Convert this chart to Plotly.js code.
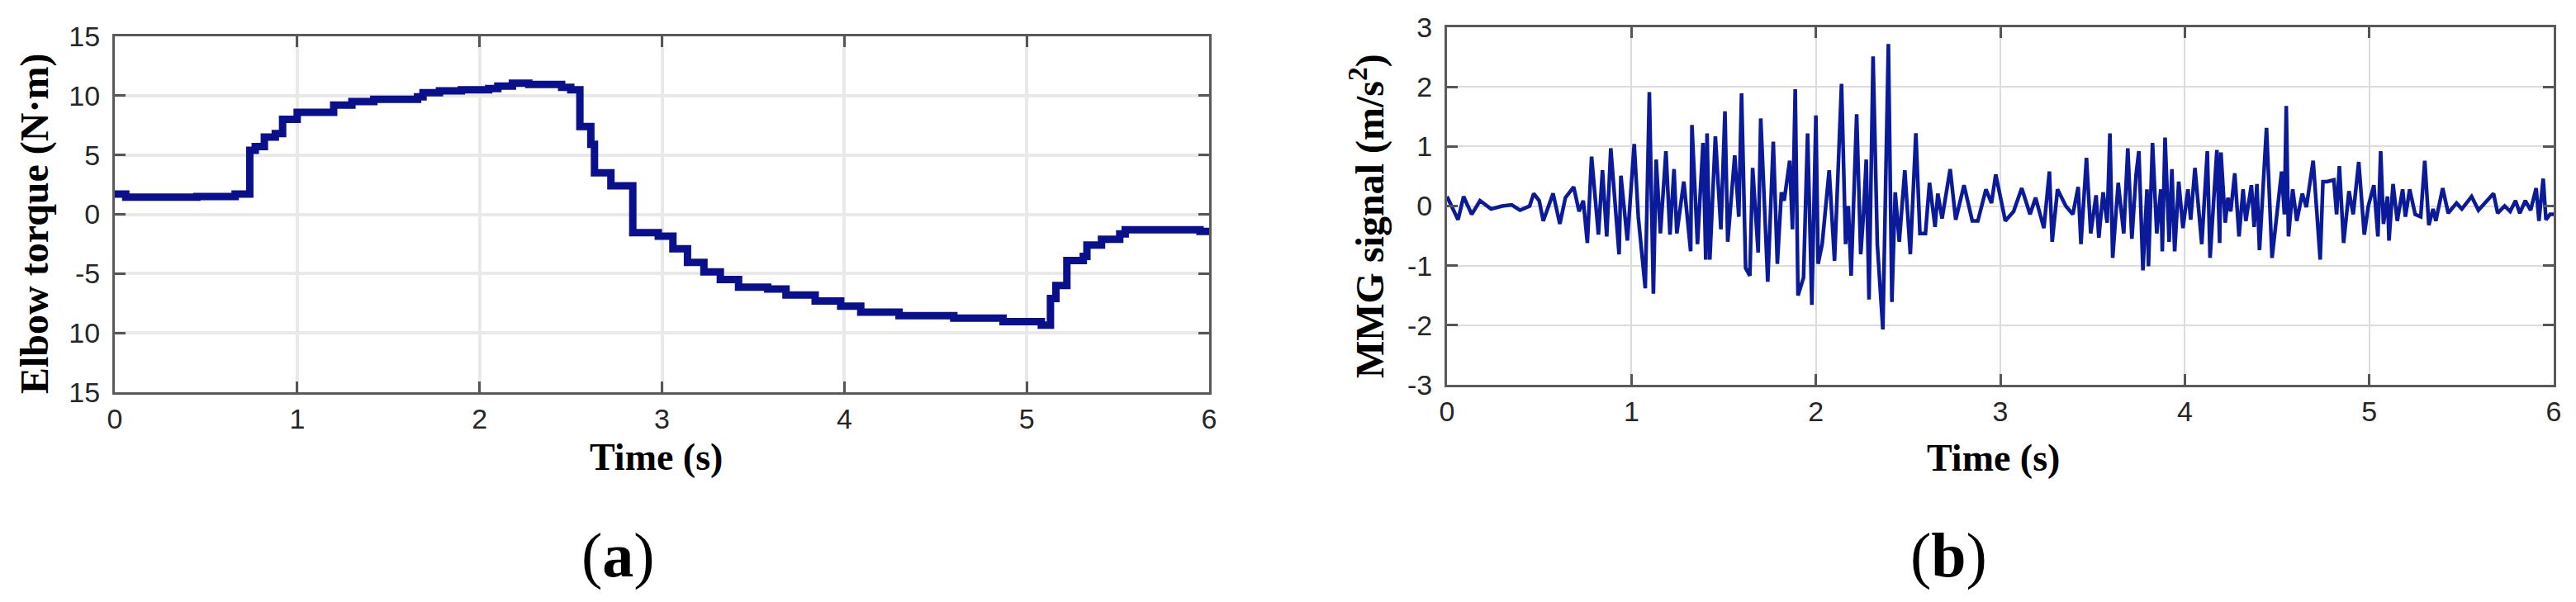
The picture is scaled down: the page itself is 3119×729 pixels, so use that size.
<!DOCTYPE html>
<html>
<head>
<meta charset="utf-8">
<script src="https://cdn.plot.ly/plotly-3.0.1.min.js"></script>
<style>
  body { margin: 0; background: #fff; }
  #div-chart { width: 3119px; height: 729px; }
</style>
</head>
<body>
<div id="div-chart"></div>
<script>
var torque_t = [0, 0.06, 0.45, 0.66, 0.74, 0.77, 0.82, 0.88, 0.92, 1.00, 1.20, 1.30, 1.42, 1.66,
    1.69, 1.78, 1.90, 2.05, 2.10, 2.18, 2.27, 2.45, 2.50, 2.55, 2.61, 2.63, 2.72, 2.84, 2.98,
    3.06, 3.14, 3.23, 3.32, 3.42, 3.58, 3.68, 3.84, 3.98, 4.09, 4.30, 4.60, 4.87, 5.08, 5.13,
    5.16, 5.22, 5.31, 5.33, 5.41, 5.51, 5.54, 5.95, 6.0];
var torque_val = [1.7, 1.45, 1.5, 1.7, 5.4, 5.7, 6.5, 6.8, 8.0, 8.6, 9.2, 9.5, 9.7, 9.9,
    10.25, 10.4, 10.5, 10.6, 10.8, 11.05, 10.95, 10.7, 10.5, 7.4, 5.9, 3.5, 2.4, -1.55, -1.85,
    -2.9, -4.05, -4.85, -5.5, -6.15, -6.3, -6.8, -7.3, -7.75, -8.25, -8.55, -8.75, -9.05, -9.35, -7.1,
    -6.0, -3.9, -3.55, -2.6, -2.1, -1.65, -1.3, -1.45, -1.5];

// (b) MMG signal, peaks and troughs
var mmg_t = [
    0.000, 0.060, 0.090, 0.134, 0.179, 0.239, 0.299, 0.351, 0.396, 0.448, 0.470, 0.500, 0.522,
    0.575, 0.612, 0.642, 0.687, 0.716, 0.739, 0.761, 0.784, 0.821, 0.843, 0.866, 0.888, 0.933,
    0.943, 0.978, 1.015, 1.037, 1.075, 1.097, 1.119, 1.134, 1.157, 1.187, 1.209, 1.231, 1.246,
    1.284, 1.321, 1.328, 1.358, 1.388, 1.403, 1.410, 1.425, 1.455, 1.485, 1.507, 1.522, 1.560,
    1.582, 1.597, 1.619, 1.642, 1.657, 1.687, 1.701, 1.739, 1.769, 1.791, 1.813, 1.828, 1.858,
    1.873, 1.888, 1.903, 1.933, 1.955, 1.978, 2.000,
    2.012, 2.034, 2.072, 2.101, 2.139, 2.161, 2.176, 2.191, 2.221, 2.243, 2.258, 2.273, 2.288,
    2.310, 2.333, 2.363, 2.393, 2.412, 2.430, 2.452, 2.482, 2.512, 2.542, 2.564, 2.594, 2.616,
    2.646, 2.661, 2.684, 2.728, 2.758, 2.803, 2.848, 2.878, 2.922, 2.952, 2.975, 3.027, 3.072,
    3.116, 3.161, 3.191, 3.236, 3.266, 3.281, 3.310, 3.355, 3.393, 3.422, 3.437, 3.467, 3.490,
    3.519, 3.534, 3.557, 3.579, 3.594, 3.609, 3.639, 3.669, 3.691, 3.713, 3.736, 3.751, 3.773,
    3.795, 3.803, 3.825, 3.848, 3.870, 3.878, 3.893, 3.915, 3.930, 3.945, 3.967, 3.990,
    4.017, 4.032, 4.055, 4.092, 4.122, 4.137, 4.174, 4.189, 4.196, 4.219, 4.234, 4.249, 4.271,
    4.294, 4.316, 4.331, 4.361, 4.376, 4.391, 4.405, 4.443, 4.473, 4.525, 4.540, 4.550, 4.562,
    4.585, 4.607, 4.637, 4.659, 4.696, 4.734, 4.749, 4.771, 4.808, 4.823, 4.838, 4.861, 4.890,
    4.913, 4.943, 4.973, 4.995, 5.025, 5.047, 5.062, 5.077, 5.099, 5.107, 5.129, 5.152, 5.181,
    5.196, 5.219, 5.249, 5.279, 5.301, 5.323, 5.346, 5.361, 5.398, 5.428, 5.473, 5.502, 5.555,
    5.592, 5.614, 5.674, 5.696, 5.734, 5.764, 5.793, 5.816, 5.846, 5.875, 5.905, 5.920, 5.943,
    5.958, 5.980, 6.000];
var mmg_val = [
    0.16, -0.23, 0.16, -0.14, 0.09, -0.05, 0.00, 0.02, -0.07, 0.00, 0.21, 0.09, -0.25,
    0.21, -0.30, 0.14, 0.32, -0.09, 0.09, -0.62, 0.83, -0.48, 0.60, -0.51, 0.97, -0.81,
    0.51, -0.58, 1.04, -0.18, -1.38, 1.91, -1.47, 0.78, -0.46, 0.92, -0.48, 0.62, -0.46,
    0.41, -0.76, 1.36, -0.64, 1.06, -0.90, 1.22, -0.90, 1.17, -0.39, 1.59, -0.60, 0.85,
    -0.18, 1.89, -1.04, -1.17, 0.64, -0.78, 1.47, -1.27, 1.08, -0.97, 0.23, 0.09, 0.76,
    -0.39, 1.96, -1.50, -1.20, 1.22, -1.66, 1.52,
    -0.97, -0.64, 0.60, -0.92, 2.05, -0.64, 0.00, -1.17, 1.54, -0.81, -0.14, 0.78, -1.57,
    2.51, -0.64, -2.07, 2.72, -1.61, 0.23, -0.60, 0.60, -0.81, 1.22, -0.46, -0.46, 0.39,
    -0.35, 0.21, -0.21, 0.62, -0.23, 0.35, -0.25, -0.25, 0.28, 0.05, 0.53, -0.25, -0.09,
    0.30, -0.14, 0.14, -0.37, 0.58, -0.60, 0.28, 0.00, -0.14, 0.32, -0.64, 0.81, -0.46,
    0.18, -0.53, 0.23, -0.28, 1.22, -0.87, 0.39, -0.46, 0.97, -0.55, 0.53, 0.92, -1.08,
    0.28, -1.01, 1.06, -0.46, 0.28, -0.76, 1.15, -0.60, 0.62, -0.76, 0.41, -0.37,
    0.28, -0.23, 0.64, -0.64, 0.92, -0.87, 0.94, -0.62, 0.90, -0.28, 0.14, -0.09, 0.55,
    -0.51, 0.28, -0.25, 0.35, -0.35, 0.37, -0.74, 1.31, -0.87, 0.58, -0.14, 1.68, -0.51,
    0.28, -0.25, 0.21, -0.02, 0.76, -0.90, 0.41, 0.41, 0.44, -0.14, 0.67, -0.62, 0.25,
    -0.14, 0.74, -0.48, 0.00, 0.35, -0.51, 0.92, -0.30, 0.16, -0.58, 0.37, -0.25, 0.28,
    -0.18, 0.28, -0.14, -0.18, 0.76, -0.32, -0.05, -0.25, 0.30, -0.12, 0.05, -0.05, 0.16,
    -0.07, 0.00, 0.21, -0.12, 0.00, -0.09, 0.09, -0.12, 0.09, -0.07, 0.30, -0.25, 0.46,
    -0.23, -0.14, -0.14];

var time_ticks = [0, 1, 2, 3, 4, 5, 6];
var torque_ticks = [-15, -10, -5, 0, 5, 10, 15];
var torque_tick_text = ['15', '10', '-5', '0', '5', '10', '15'];
var mmg_ticks = [-3, -2, -1, 0, 1, 2, 3];

var W = 3119, H = 729;
function px(x) { return x / W; }
function py(y) { return 1 - y / H; }

var tick_font = {family: 'Liberation Sans, Arial, sans-serif', size: 34, color: '#262626'};
var serif = 'Liberation Serif, Times New Roman, serif';

function make_xaxis(domain, anchor, gridwidth, gridcolor) {
    return {
        domain: domain, anchor: anchor, range: [0, 6],
        tickvals: time_ticks, ticktext: time_ticks.map(String),
        ticks: 'inside', ticklen: 13, tickwidth: 3, tickcolor: '#555',
        showline: true, linecolor: '#5a5a5a', linewidth: 3, mirror: 'ticks',
        showgrid: true, gridcolor: gridcolor, gridwidth: gridwidth,
        zeroline: false, tickfont: tick_font, ticklabelstandoff: 0
    };
}

function make_yaxis(domain, anchor, range, vals, text, gridwidth, gridcolor) {
    return {
        domain: domain, anchor: anchor, range: range,
        tickvals: vals, ticktext: text,
        ticks: 'inside', ticklen: 13, tickwidth: 3, tickcolor: '#555',
        showline: true, linecolor: '#5a5a5a', linewidth: 3, mirror: 'ticks',
        showgrid: true, gridcolor: gridcolor, gridwidth: gridwidth,
        zeroline: false, tickfont: tick_font, ticklabelstandoff: 8
    };
}

function label(text, x, y, size, angle) {
    return {
        text: text, xref: 'paper', yref: 'paper', x: px(x), y: py(y),
        xanchor: 'center', yanchor: 'middle', showarrow: false,
        textangle: angle || 0,
        font: {family: serif, size: size, color: '#000'}
    };
}

var data_torque = {
    x: torque_t, y: torque_val, xaxis: 'x', yaxis: 'y',
    mode: 'lines', line: {color: '#0a108c', width: 9, shape: 'hv'}
};

var data_mmg = {
    x: mmg_t, y: mmg_val, xaxis: 'x2', yaxis: 'y2',
    mode: 'lines', line: {color: '#0b1a98', width: 4.5}
};

var layout = {
    width: W, height: H,
    margin: {l: 0, r: 0, t: 0, b: 0},
    paper_bgcolor: '#fff', plot_bgcolor: '#fff',
    showlegend: false,
    xaxis: make_xaxis([px(139), px(1464)], 'y', 4, '#e9e9e9'),
    yaxis: make_yaxis([py(475), py(44)], 'x', [-15, 15], torque_ticks, torque_tick_text, 4, '#e9e9e9'),
    xaxis2: make_xaxis([px(1752), px(3092)], 'y2', 2, '#dcdcdc'),
    yaxis2: make_yaxis([py(466), py(33)], 'x2', [-3, 3], mmg_ticks, mmg_ticks.map(String), 2, '#dcdcdc'),
    annotations: [
        label('<b>Elbow torque (N·m)</b>', 42, 271, 48, -90),
        label('<b>Time (s)</b>', 795, 553, 46),
        label('(<b>a</b>)', 748, 672, 76),
        label('<b>MMG signal (m/s<sup>2</sup>)</b>', 1655, 262, 48, -90),
        label('<b>Time (s)</b>', 2413, 554, 46),
        label('(<b>b</b>)', 2359, 672, 76)
    ]
};

Plotly.newPlot('div-chart', [data_torque, data_mmg], layout, {staticPlot: true});
</script>
</body>
</html>
